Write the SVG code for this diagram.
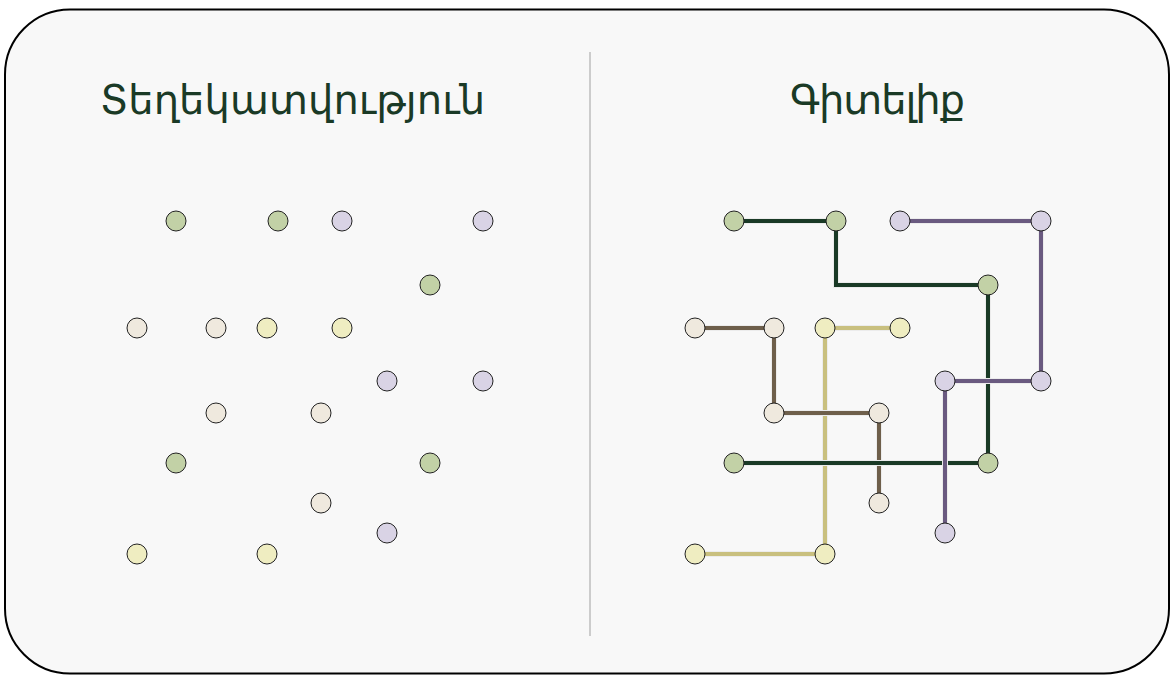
<svg xmlns="http://www.w3.org/2000/svg" width="1171" height="675" viewBox="0 0 1171 675">
<style>
.title{font-family:"DejaVu Sans","Noto Sans",sans-serif;font-size:40px;fill:#1a3a26;text-anchor:middle}
.n{stroke:#222;stroke-width:1}
.g{fill:#c2d1a6}.l{fill:#d9d3e5}.b{fill:#efe9de}.y{fill:#efedc1}
.e{fill:none;stroke-width:4;stroke-linejoin:miter;stroke-linecap:butt}
.h{fill:none;stroke:#ececec;stroke-width:6}
.eg{stroke:#1a3a26}.el{stroke:#6a5a80}.eb{stroke:#6e5f4b}.ey{stroke:#c9c07f}
</style>
<rect x="5" y="9.5" width="1164" height="664" rx="65" ry="65" fill="#f8f8f8" stroke="#000" stroke-width="2"/>
<line x1="590" y1="52" x2="590" y2="636" stroke="#cccccc" stroke-width="2"/>
<text class="title" x="292.5" y="114" textLength="385" lengthAdjust="spacing">Տեղեկատվություն</text>
<text class="title" x="877.5" y="114" textLength="175" lengthAdjust="spacing">Գիտելիք</text>
<g id="connectors">
<path class="h" d="M825 328 H900 M825 328 V554 H695"/>
<path class="e ey" d="M825 328 H900 M825 328 V554 H695"/>
<path class="h" d="M695 328 H774 V413 H879 V503"/>
<path class="e eb" d="M695 328 H774 V413 H879 V503"/>
<path class="h" d="M734 221 H836 V285 H988 V463 H734"/>
<path class="e eg" d="M734 221 H836 V285 H988 V463 H734"/>
<path class="h" d="M900 221 H1041 V381 H945 V533"/>
<path class="e el" d="M900 221 H1041 V381 H945 V533"/>
</g>
<g id="left-nodes">
<circle id="lg1" class="n g" cx="176" cy="221" r="10"/>
<circle id="lg2" class="n g" cx="278" cy="221" r="10"/>
<circle id="lg3" class="n g" cx="430" cy="285" r="10"/>
<circle id="lg4" class="n g" cx="176" cy="463" r="10"/>
<circle id="lg5" class="n g" cx="430" cy="463" r="10"/>
<circle id="ll1" class="n l" cx="342" cy="221" r="10"/>
<circle id="ll2" class="n l" cx="483" cy="221" r="10"/>
<circle id="ll3" class="n l" cx="387" cy="381" r="10"/>
<circle id="ll4" class="n l" cx="483" cy="381" r="10"/>
<circle id="ll5" class="n l" cx="387" cy="533" r="10"/>
<circle id="lb1" class="n b" cx="137" cy="328" r="10"/>
<circle id="lb2" class="n b" cx="216" cy="328" r="10"/>
<circle id="lb3" class="n b" cx="216" cy="413" r="10"/>
<circle id="lb4" class="n b" cx="321" cy="413" r="10"/>
<circle id="lb5" class="n b" cx="321" cy="503" r="10"/>
<circle id="ly1" class="n y" cx="267" cy="328" r="10"/>
<circle id="ly2" class="n y" cx="342" cy="328" r="10"/>
<circle id="ly3" class="n y" cx="137" cy="554" r="10"/>
<circle id="ly4" class="n y" cx="267" cy="554" r="10"/>
</g>
<g id="right-nodes">
<circle id="rg1" class="n g" cx="734" cy="221" r="10"/>
<circle id="rg2" class="n g" cx="836" cy="221" r="10"/>
<circle id="rg3" class="n g" cx="988" cy="285" r="10"/>
<circle id="rg4" class="n g" cx="734" cy="463" r="10"/>
<circle id="rg5" class="n g" cx="988" cy="463" r="10"/>
<circle id="rl1" class="n l" cx="900" cy="221" r="10"/>
<circle id="rl2" class="n l" cx="1041" cy="221" r="10"/>
<circle id="rl3" class="n l" cx="945" cy="381" r="10"/>
<circle id="rl4" class="n l" cx="1041" cy="381" r="10"/>
<circle id="rl5" class="n l" cx="945" cy="533" r="10"/>
<circle id="rb1" class="n b" cx="695" cy="328" r="10"/>
<circle id="rb2" class="n b" cx="774" cy="328" r="10"/>
<circle id="rb3" class="n b" cx="774" cy="413" r="10"/>
<circle id="rb4" class="n b" cx="879" cy="413" r="10"/>
<circle id="rb5" class="n b" cx="879" cy="503" r="10"/>
<circle id="ry1" class="n y" cx="825" cy="328" r="10"/>
<circle id="ry2" class="n y" cx="900" cy="328" r="10"/>
<circle id="ry3" class="n y" cx="695" cy="554" r="10"/>
<circle id="ry4" class="n y" cx="825" cy="554" r="10"/>
</g>
</svg>
